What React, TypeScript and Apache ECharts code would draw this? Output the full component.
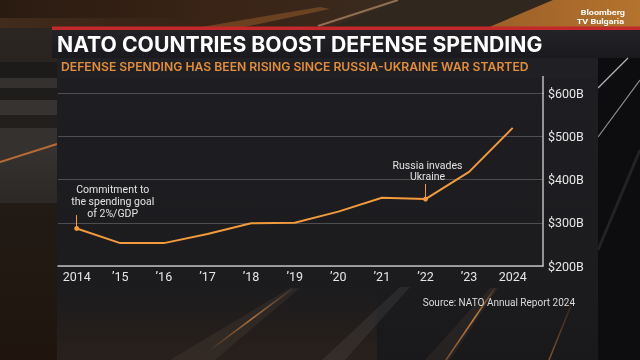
import React, { useEffect, useRef } from 'react';
import * as echarts from 'echarts';

const years = [2014, 2015, 2016, 2017, 2018, 2019, 2020, 2021, 2022, 2023, 2024];
const yearLabels = ['2014', '’15', '’16', '’17', '’18', '’19', '’20', '’21', '’22', '’23', '2024'];
const spending = [287, 253, 253, 274, 299, 300, 326, 358, 355, 418, 520];
const yTicks = [200, 300, 400, 500, 600];
const annotationYears = [2014, 2022];
const annotationTexts = ['Commitment to\nthe spending goal\nof 2%/GDP', 'Russia invades\nUkraine'];
const titleText = 'NATO COUNTRIES BOOST DEFENSE SPENDING';
const subtitleText = 'DEFENSE SPENDING HAS BEEN RISING SINCE RUSSIA-UKRAINE WAR STARTED';
const sourceText = 'Source: NATO Annual Report 2024';
const brandLines = ['Bloomberg', 'TV Bulgaria'];

const ORANGE = '#f29a3c';
const FONT = 'Roboto';

function lin(x2: number, y2: number, stops: [number, string][]) {
  return {
    type: 'linear', x: 0, y: 0, x2, y2,
    colorStops: stops.map(([offset, color]) => ({ offset, color })),
  };
}

export default function App() {
  const ref = useRef<HTMLDivElement>(null);
  useEffect(() => {
    document.body.style.margin = '0';
    const chart = echarts.init(ref.current!, undefined, { renderer: 'svg' });

    // layout: where the leader lines of the notes end (in $B)
    const leaderTops = [318, 390];
    const labelLayout = [
      { distance: 7, offset: [36, 0] },
      { distance: 14, offset: [2, 0] },
    ];

    const data = years.map((y, i) => {
      const k = annotationYears.indexOf(y);
      const item: any = { value: [y, spending[i]] };
      if (k >= 0) {
        item.label = {
          show: true,
          position: 'top',
          distance: labelLayout[k].distance,
          offset: labelLayout[k].offset,
          formatter: annotationTexts[k],
          align: 'center',
          lineHeight: 11.7,
          fontSize: 10.5,
          color: '#e2e2e2',
          fontFamily: FONT,
        };
      }
      return item;
    });

    const bg: any[] = [
      { type: 'rect', shape: { x: 0, y: 0, width: 640, height: 360 }, style: { fill: '#131315' } },
      // top strip
      {
        type: 'rect', shape: { x: 0, y: 0, width: 640, height: 28 },
        style: { fill: lin(1, 0, [[0, '#2a1b11'], [0.35, '#3a2416'], [0.6, '#3a2a1f'], [1, '#3a2a1f']]) },
      },
      { type: 'rect', shape: { x: 0, y: 18, width: 200, height: 10 }, style: { fill: lin(1, 0, [[0, 'rgba(90,60,40,0.5)'], [1, 'rgba(90,60,40,0)']]) } },
      { type: 'polygon', shape: { points: [[330, 28], [487, 28], [553, 0], [400, 0]] }, style: { fill: '#30271f' } },
      { type: 'polygon', shape: { points: [[487, 28], [640, 28], [640, 0], [553, 0]] }, style: { fill: lin(1, 0, [[0, '#9c5f27'], [1, '#b4742e']]) } },
      { type: 'polygon', shape: { points: [[195, 28], [240, 28], [330, 9], [320, 7]] }, style: { fill: 'rgba(200,120,50,0.35)' } },
      { type: 'line', shape: { x1: 318, y1: 26, x2: 398, y2: 0 }, style: { stroke: 'rgba(215,170,125,0.55)', lineWidth: 2 } },
      // left strip (blinds)
      { type: 'rect', shape: { x: 0, y: 28, width: 57, height: 332 }, style: { fill: lin(0, 1, [[0, '#2b2622'], [0.55, '#221a14'], [1, '#1f150e']]) } },
      { type: 'rect', shape: { x: 0, y: 62, width: 57, height: 16 }, style: { fill: '#1d1b1a' } },
      { type: 'rect', shape: { x: 0, y: 78, width: 57, height: 10 }, style: { fill: '#34312f' } },
      { type: 'rect', shape: { x: 0, y: 88, width: 57, height: 12 }, style: { fill: '#1f1d1c' } },
      { type: 'rect', shape: { x: 0, y: 100, width: 57, height: 15 }, style: { fill: '#363330' } },
      { type: 'rect', shape: { x: 0, y: 115, width: 57, height: 13 }, style: { fill: '#221f1d' } },
      { type: 'rect', shape: { x: 0, y: 128, width: 57, height: 20 }, style: { fill: '#35312e' } },
      { type: 'rect', shape: { x: 0, y: 148, width: 57, height: 55 }, style: { fill: lin(0, 1, [[0, '#35322f'], [1, '#2c2825']]) } },
      { type: 'line', shape: { x1: 0, y1: 162, x2: 57, y2: 144 }, style: { stroke: '#b86a35', lineWidth: 2 } },
      // title band
      { type: 'rect', shape: { x: 52, y: 28, width: 588, height: 30 }, style: { fill: lin(0, 1, [[0, '#232328'], [1, '#1a1a1e']]) } },
      { type: 'rect', shape: { x: 52, y: 26.5, width: 588, height: 3.5 }, style: { fill: '#c3282b' } },
      // right strip
      { type: 'rect', shape: { x: 598, y: 58, width: 42, height: 302 }, style: { fill: '#0d0d0f' } },
      { type: 'line', shape: { x1: 598, y1: 88, x2: 628, y2: 58 }, style: { stroke: 'rgba(235,235,235,0.75)', lineWidth: 1.2 } },
      { type: 'line', shape: { x1: 598, y1: 137, x2: 640, y2: 80 }, style: { stroke: 'rgba(235,235,235,0.6)', lineWidth: 1.2 } },
      { type: 'line', shape: { x1: 598, y1: 250, x2: 640, y2: 150 }, style: { stroke: 'rgba(200,200,200,0.12)', lineWidth: 3 } },
      // subtitle band + panel
      { type: 'rect', shape: { x: 57, y: 58, width: 541, height: 20 }, style: { fill: '#202024' } },
      { type: 'rect', shape: { x: 57, y: 78, width: 541, height: 282 }, style: { fill: lin(0, 1, [[0, '#1e1e22'], [0.7, '#1c1c1f'], [1, '#19181a']]) } },
      { type: 'rect', shape: { x: 57, y: 285, width: 320, height: 75 }, style: { fill: lin(0, 1, [[0, 'rgba(60,42,28,0)'], [1, 'rgba(60,42,28,0.45)']]) } },
      // light streaks at bottom
      { type: 'polygon', shape: { points: [[170, 360], [215, 360], [300, 288], [290, 288]] }, style: { fill: 'rgba(110,100,90,0.16)' } },
      { type: 'line', shape: { x1: 210, y1: 350, x2: 292, y2: 289 }, style: { stroke: lin(1, 0, [[0, 'rgba(230,130,50,0.05)'], [0.5, 'rgba(240,140,60,0.7)'], [1, 'rgba(240,140,60,0.1)']]), lineWidth: 1.5 } },
      { type: 'polygon', shape: { points: [[322, 360], [345, 360], [410, 287], [400, 287]] }, style: { fill: 'rgba(120,120,120,0.16)' } },
      { type: 'polygon', shape: { points: [[425, 360], [450, 360], [498, 288], [490, 288]] }, style: { fill: 'rgba(120,100,80,0.14)' } },
      { type: 'line', shape: { x1: 446, y1: 360, x2: 495, y2: 288 }, style: { stroke: lin(1, 0, [[0, 'rgba(240,140,60,0.4)'], [0.6, 'rgba(245,150,70,0.8)'], [1, 'rgba(240,140,60,0.1)']]), lineWidth: 1.5 } },
      { type: 'line', shape: { x1: 549, y1: 360, x2: 572, y2: 303 }, style: { stroke: lin(1, 0, [[0, 'rgba(240,140,60,0.5)'], [1, 'rgba(240,140,60,0.1)']]), lineWidth: 1.5 } },
      // extension of the right axis line up to the panel top
      { type: 'line', shape: { x1: 543, y1: 76, x2: 543, y2: 93.5 }, style: { stroke: '#bdbdbd', lineWidth: 1.5 } },
    ];

    const brand = brandLines.map((t, i) => ({
      type: 'text', x: 625 - i, y: 8.5 + i * 8.5, z: 10, silent: true,
      scaleX: 1.2, originX: 0, originY: 0,
      style: {
        text: t, align: 'right', verticalAlign: 'top',
        fill: '#ffffff', fontSize: 7.5, fontWeight: 'bold', fontFamily: FONT, lineHeight: 8.5,
      },
    }));

    chart.setOption({
      animation: false,
      textStyle: { fontFamily: FONT },
      graphic: { elements: [...bg.map((e) => ({ ...e, z: -100, silent: true })), ...brand] },
      title: [
        {
          text: titleText, left: 57, top: 33, padding: 0,
          textStyle: { color: '#ffffff', fontSize: 21.2, fontWeight: 'bold', fontFamily: 'Inter' },
        },
        {
          text: subtitleText, left: 61, top: 60.8, padding: 0,
          textStyle: { color: '#e28e3a', fontSize: 12.2, fontWeight: 600, fontFamily: 'Inter' },
        },
        {
          text: sourceText, right: 65, top: 297.5, padding: 0,
          textStyle: { color: '#dcdcdc', fontSize: 10, fontWeight: 'normal', fontFamily: FONT },
        },
      ],
      grid: { left: 58, right: 97, top: 93.3, bottom: 94, containLabel: false, outerBoundsMode: 'none' },
      xAxis: {
        type: 'value',
        min: 2013.571,
        max: 2024.695,
        axisLine: { show: true, lineStyle: { color: '#bdbdbd', width: 1.5 } },
        axisTick: { show: false },
        splitLine: { show: false },
        axisLabel: {
          customValues: years,
          formatter: (v: number) => yearLabels[years.indexOf(Math.round(v))] ?? '',
          color: '#e6e6e6',
          fontSize: 12.5,
          margin: 4,
          fontFamily: FONT,
        },
      },
      yAxis: {
        type: 'value',
        position: 'right',
        min: yTicks[0],
        max: yTicks[yTicks.length - 1],
        interval: 100,
        axisLine: { show: true, lineStyle: { color: '#bdbdbd', width: 1.5 } },
        axisTick: { show: false },
        splitLine: { show: true, lineStyle: { color: 'rgba(255,255,255,0.22)', width: 1 } },
        axisLabel: {
          formatter: (v: number) => `$${v}B`,
          color: '#e6e6e6',
          fontSize: 12.5,
          margin: 5,
          fontFamily: FONT,
        },
      },
      series: [
        {
          type: 'line',
          data,
          lineStyle: { color: ORANGE, width: 2 },
          itemStyle: { color: ORANGE },
          symbol: 'circle',
          symbolSize: (_v: any, p: any) => (annotationYears.includes(years[p.dataIndex]) ? 5 : 0),
          showSymbol: true,
          emphasis: { disabled: true },
          silent: true,
          markLine: {
            silent: true,
            symbol: ['none', 'none'],
            label: { show: false },
            lineStyle: { type: 'solid', color: ORANGE, width: 1 },
            emphasis: { disabled: true },
            data: annotationYears.map((y, k) => [
              { coord: [y, spending[years.indexOf(y)]] },
              { coord: [y, leaderTops[k]] },
            ]),
          },
        },
      ],
    });
    return () => chart.dispose();
  }, []);
  return <div ref={ref} style={{ position: 'fixed', left: 0, top: 0, width: 640, height: 360 }} />;
}
